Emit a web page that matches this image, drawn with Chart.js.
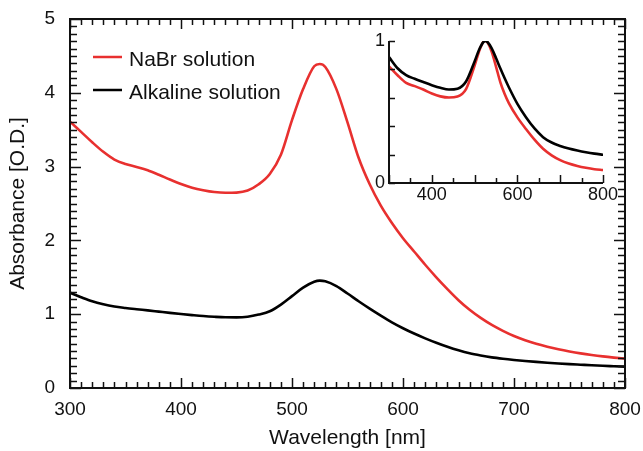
<!DOCTYPE html>
<html><head><meta charset="utf-8">
<script src="https://cdn.jsdelivr.net/npm/chart.js@4/dist/chart.umd.min.js"></script>
<style>
html,body{margin:0;padding:0;background:#fff;}
#wrap{position:relative;width:643px;height:451px;overflow:hidden;background:#fff;}
#main{position:absolute;left:0;top:0;}
#inset{position:absolute;left:340px;top:20px;}
</style></head><body>
<div id="wrap"><canvas id="main" width="643" height="451"></canvas><canvas id="inset" width="300" height="200"></canvas></div>
<script>
// ---- data ----
const seriesNames = ['NaBr solution', 'Alkaline solution'];
const wavelengths = [300,310,320,330,340,350,360,370,380,390,400,410,420,430,440,450,460,470,480,490,500,510,520,525,530,540,550,560,570,580,590,600,610,620,630,640,650,660,670,680,690,700,710,720,730,740,750,760,770,780,790,800];
const nabr = [3.61,3.47,3.33,3.20,3.095,3.035,2.995,2.95,2.89,2.825,2.765,2.715,2.68,2.655,2.645,2.648,2.675,2.76,2.90,3.16,3.63,4.05,4.36,4.39,4.35,4.05,3.60,3.12,2.76,2.47,2.235,2.03,1.85,1.67,1.50,1.34,1.19,1.06,0.95,0.855,0.775,0.705,0.648,0.60,0.56,0.525,0.495,0.469,0.447,0.428,0.412,0.398];
const alkaline = [1.29,1.23,1.175,1.135,1.105,1.085,1.068,1.052,1.035,1.018,1.002,0.988,0.975,0.965,0.958,0.957,0.966,0.995,1.04,1.13,1.245,1.36,1.44,1.455,1.445,1.38,1.28,1.175,1.075,0.98,0.89,0.81,0.738,0.673,0.613,0.558,0.51,0.47,0.44,0.415,0.396,0.38,0.366,0.354,0.343,0.333,0.324,0.316,0.308,0.301,0.295,0.289];
const insetWavelengths = [300,320,340,360,380,400,420,440,460,480,500,510,520,525,530,540,550,560,570,580,600,620,640,660,680,700,720,740,760,780,800];
const insetNabr = [0.822,0.759,0.705,0.682,0.658,0.630,0.610,0.602,0.609,0.661,0.827,0.923,0.993,1.0,0.991,0.923,0.820,0.711,0.629,0.563,0.462,0.380,0.305,0.241,0.195,0.161,0.137,0.120,0.107,0.097,0.091];
const insetAlkaline = [0.887,0.808,0.760,0.734,0.711,0.689,0.670,0.658,0.664,0.715,0.856,0.935,0.990,1.0,0.993,0.948,0.880,0.808,0.739,0.674,0.557,0.463,0.384,0.323,0.285,0.261,0.243,0.229,0.217,0.207,0.199];
const insetXTickLabels = [400,600,800];
const insetYTickLabels = [0,1];

const RED = '#e8302f', BLACK = '#000000';
const FONT = "'Liberation Sans', Arial, Helvetica, sans-serif";

function pts(xs, ys){ return xs.map((x,i)=>({x:x, y:ys[i]})); }
function noPad(s){ s.paddingTop = 0; s.paddingBottom = 0; s.paddingLeft = 0; s.paddingRight = 0; }
function lineDs(label, data, color, order){
  return { label: label, data: data, borderColor: color, borderWidth: 2.6, pointRadius: 0, cubicInterpolationMode: 'monotone', fill: false, order: order, borderJoinStyle: 'round', borderCapStyle: 'round' };
}

function framePlugin(cfg){
  return {
    id: 'frame',
    afterDatasetsDraw(chart){
      const ctx = chart.ctx, a = chart.chartArea, xs = chart.scales.x, ys = chart.scales.y;
      ctx.save();
      ctx.strokeStyle = '#111';
      ctx.lineWidth = cfg.tickWidth;
      ctx.beginPath();
      const nx = Math.round((xs.max - xs.min)/cfg.xMinor);
      for (let i=0;i<=nx;i++){
        const v = xs.min + i*cfg.xMinor;
        const major = Math.abs(v/cfg.xMajor - Math.round(v/cfg.xMajor)) < 1e-6;
        const L = major ? cfg.xMajorLen : cfg.xMinorLen;
        const px = Math.round(xs.getPixelForValue(v))+0.5;
        ctx.moveTo(px, a.bottom); ctx.lineTo(px, a.bottom - L);
        if (cfg.box){ ctx.moveTo(px, a.top); ctx.lineTo(px, a.top + L); }
      }
      const ny = Math.round((ys.max - ys.min)/cfg.yMinor);
      for (let i=0;i<=ny;i++){
        const v = ys.min + i*cfg.yMinor;
        const major = Math.abs(v/cfg.yMajor - Math.round(v/cfg.yMajor)) < 1e-6;
        const L = major ? cfg.yMajorLen : cfg.yMinorLen;
        const py = Math.round(ys.getPixelForValue(v))+0.5;
        ctx.moveTo(a.left, py); ctx.lineTo(a.left + L, py);
        if (cfg.box){ ctx.moveTo(a.right, py); ctx.lineTo(a.right - L, py); }
      }
      ctx.stroke();
      ctx.lineWidth = cfg.axisWidth;
      ctx.beginPath();
      if (cfg.box){
        ctx.rect(a.left, a.top, a.right - a.left, a.bottom - a.top);
      } else {
        ctx.moveTo(a.left, a.top); ctx.lineTo(a.left, a.bottom); ctx.lineTo(a.right, a.bottom);
      }
      ctx.stroke();
      ctx.restore();
    }
  };
}

const legendPlugin = {
  id: 'customLegend',
  afterDraw(chart){
    const ctx = chart.ctx;
    ctx.save();
    ctx.font = '21px ' + FONT;
    ctx.textBaseline = 'alphabetic';
    ctx.textAlign = 'left';
    chart.data.datasets.forEach((ds, i) => {
      const y = 57 + i*33;
      ctx.strokeStyle = ds.borderColor; ctx.lineWidth = 2.5;
      ctx.beginPath(); ctx.moveTo(93, y); ctx.lineTo(122, y); ctx.stroke();
      ctx.fillStyle = '#111';
      ctx.fillText(ds.label, 129, y + 8.5);
    });
    ctx.restore();
  }
};

new Chart(document.getElementById('main'), {
  type: 'line',
  data: { datasets: [
    lineDs(seriesNames[0], pts(wavelengths, nabr), RED, 1),
    lineDs(seriesNames[1], pts(wavelengths, alkaline), BLACK, 0)
  ]},
  options: {
    responsive: false, animation: false, devicePixelRatio: 1,
    layout: { padding: { left: 0, right: 18, top: 19, bottom: 0 } },
    plugins: { legend: { display: false }, tooltip: { enabled: false } },
    scales: {
      x: { type: 'linear', min: 300, max: 800,
        grid: { display: false, drawTicks: false }, border: { display: false },
        ticks: { stepSize: 100, padding: 10, color: '#111', font: { family: FONT, size: 19 } },
        title: { display: true, text: 'Wavelength [nm]', color: '#111', font: { family: FONT, size: 21 }, padding: { top: 0, bottom: 0 } },
        afterFit(s){ s.height = 63; noPad(s); } },
      y: { type: 'linear', min: 0, max: 5,
        grid: { display: false, drawTicks: false }, border: { display: false },
        ticks: { stepSize: 1, padding: 15, color: '#111', font: { family: FONT, size: 19 } },
        title: { display: true, text: 'Absorbance [O.D.]', color: '#111', font: { family: FONT, size: 21 }, padding: { top: 6, bottom: 0 } },
        afterFit(s){ s.width = 70; noPad(s); } }
    }
  },
  plugins: [framePlugin({ box: true, xMinor: 10, xMajor: 100, yMinor: 0.1, yMajor: 1, xMajorLen: 10, xMinorLen: 6, yMajorLen: 11, yMinorLen: 7, tickWidth: 1.5, axisWidth: 2 }), legendPlugin]
});

new Chart(document.getElementById('inset'), {
  type: 'line',
  data: { datasets: [
    lineDs(seriesNames[0], pts(insetWavelengths, insetNabr), RED, 1),
    lineDs(seriesNames[1], pts(insetWavelengths, insetAlkaline), BLACK, 0)
  ]},
  options: {
    responsive: false, animation: false, devicePixelRatio: 1,
    layout: { padding: { left: 0, right: 37, top: 21, bottom: 0 } },
    plugins: { legend: { display: false }, tooltip: { enabled: false } },
    scales: {
      x: { type: 'linear', min: 300, max: 800,
        grid: { display: false, drawTicks: false }, border: { display: false },
        afterBuildTicks(s){ s.ticks = insetXTickLabels.map(v => ({ value: v })); },
        ticks: { padding: 1, color: '#111', font: { family: FONT, size: 18 } },
        afterFit(s){ s.height = 37; noPad(s); } },
      y: { type: 'linear', min: 0, max: 1,
        grid: { display: false, drawTicks: false }, border: { display: false },
        afterBuildTicks(s){ s.ticks = insetYTickLabels.map(v => ({ value: v })); },
        ticks: { padding: 4, color: '#111', font: { family: FONT, size: 18 } },
        afterFit(s){ s.width = 49; noPad(s); } }
    }
  },
  plugins: [framePlugin({ box: false, xMinor: 50, xMajor: 100, yMinor: 0.2, yMajor: 0.2, xMajorLen: 8, xMinorLen: 5, yMajorLen: 6, yMinorLen: 6, tickWidth: 1.5, axisWidth: 2 })]
});
</script>
</body></html>
